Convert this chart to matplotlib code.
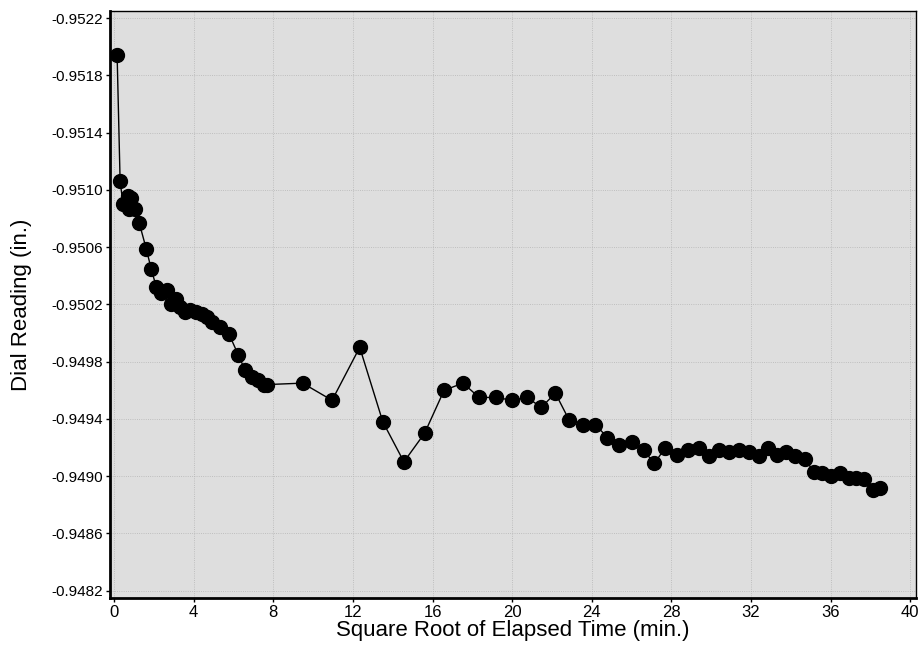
import numpy as np
import matplotlib
matplotlib.use('Agg')
import matplotlib.pyplot as plt

# Square root of elapsed time (min.) and dial readings (in.)
sqrt_time = [0.15, 0.30, 0.45, 0.70, 0.75, 0.85, 1.05, 1.26, 1.61, 1.86,
             2.12, 2.37, 2.67, 2.87, 3.12, 3.32, 3.58, 3.83, 4.13, 4.43,
             4.67, 4.92, 5.33, 5.78, 6.23, 6.58, 6.93, 7.24, 7.54, 7.69,
             9.47, 10.95, 12.34, 13.50, 14.56, 15.60, 16.58, 17.53, 18.34, 19.19,
             20.00, 20.76, 21.46, 22.17, 22.87, 23.58, 24.18, 24.79, 25.39, 26.00,
             26.60, 27.15, 27.70, 28.26, 28.82, 29.37, 29.87, 30.38, 30.88, 31.39,
             31.89, 32.39, 32.85, 33.30, 33.75, 34.20, 34.70, 35.17, 35.58, 36.03,
             36.48, 36.93, 37.29, 37.69, 38.14, 38.50]
dial = [-0.95194, -0.95106, -0.95090, -0.95096, -0.95087, -0.95094, -0.95087, -0.95077, -0.95059, -0.95045,
        -0.95032, -0.95028, -0.95030, -0.95020, -0.95024, -0.95018, -0.95015, -0.95016, -0.95015, -0.95013,
        -0.95011, -0.95008, -0.95004, -0.94999, -0.94985, -0.94974, -0.94969, -0.94967, -0.94964, -0.94964,
        -0.94965, -0.94953, -0.94990, -0.94938, -0.94910, -0.94930, -0.94960, -0.94965, -0.94955, -0.94955,
        -0.94953, -0.94955, -0.94948, -0.94958, -0.94939, -0.94936, -0.94936, -0.94927, -0.94922, -0.94924,
        -0.94918, -0.94909, -0.94920, -0.94915, -0.94918, -0.94920, -0.94914, -0.94918, -0.94917, -0.94918,
        -0.94917, -0.94914, -0.94920, -0.94915, -0.94917, -0.94914, -0.94912, -0.94903, -0.94902, -0.94900,
        -0.94902, -0.94899, -0.94899, -0.94898, -0.94890, -0.94892]

x_ticks = np.arange(0, 41, 4)
y_ticks = np.arange(-0.9522, -0.94815, 0.0004)

tick_font = ['Liberation Sans Narrow', 'Liberation Sans', 'DejaVu Sans']
label_font = ['Liberation Sans', 'DejaVu Sans']

fig = plt.figure(figsize=(9.18, 6.47), dpi=100)
ax = fig.add_axes([0.120, 0.076, 0.878, 0.907])
ax.set_facecolor('#dedede')

ax.plot(sqrt_time, dial, '-', color='black', lw=1.0,
        marker='o', ms=10, mfc='black', mec='black')

ax.set_xlim(-0.2, 40.3)
ax.set_ylim(-0.94815, -0.95225)   # inverted: more negative at the top

ax.set_xticks(x_ticks)
ax.set_yticks(y_ticks)
ax.set_xticklabels([str(v) for v in x_ticks], family=tick_font, fontsize=12)
ax.set_yticklabels(['%.4f' % v for v in y_ticks], family=tick_font, fontsize=11)
ax.tick_params(direction='out', length=3, width=1, pad=2)

ax.grid(True, color='#b4b4b4', lw=0.6, ls=':')

for side in ['left', 'bottom']:
    ax.spines[side].set_linewidth(2.0)
for side in ['top', 'right']:
    ax.spines[side].set_linewidth(1.0)

ax.set_xlabel('Square Root of Elapsed Time (min.)', family=label_font,
              fontsize=16, labelpad=0)
ax.set_ylabel('Dial Reading (in.)', family=label_font, fontsize=16, labelpad=14)

fig.savefig('out.png', dpi=100)
